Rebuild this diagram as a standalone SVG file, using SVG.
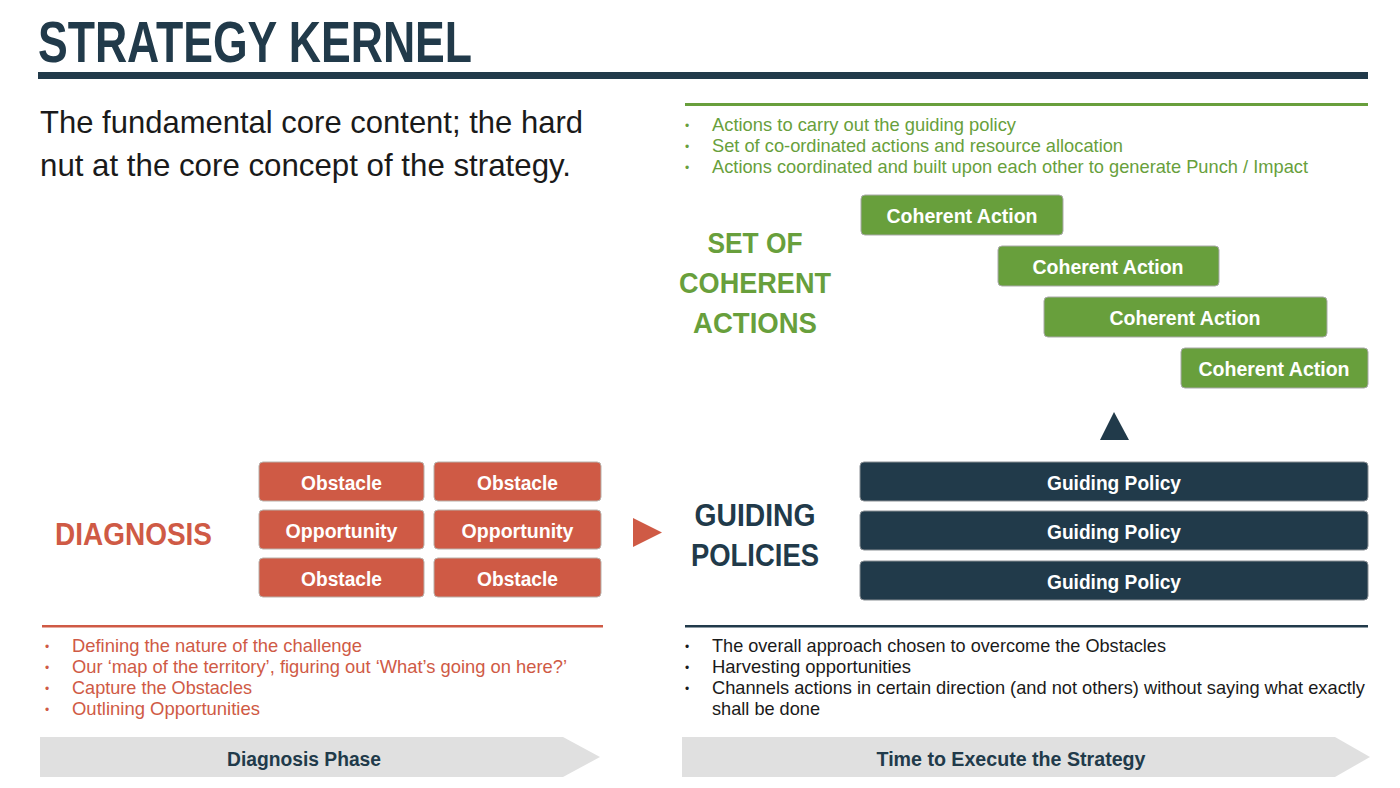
<svg xmlns="http://www.w3.org/2000/svg" width="1400" height="788" viewBox="0 0 1400 788">
<style>
.bold{font-family:"Liberation Sans",Arial,sans-serif;font-weight:bold}
.reg{font-family:"Liberation Sans",Arial,sans-serif}
.lbl{font-size:20px;fill:#ffffff;text-anchor:middle}
.red{fill:#cf5a45}
.green{fill:#689f3c}
.dark{fill:#213a4a}
.redbox{fill:#cf5a45;stroke:#b8b0aa;stroke-width:1}
.greenbox{fill:#689f3c;stroke:#a9a9a9;stroke-width:1}
.darkbox{fill:#213a4a;stroke:#8a8f94;stroke-width:1}
.bul{font-size:18.5px}
.dot{font-size:12px}
</style>
<rect width="1400" height="788" fill="#ffffff"/>

<g id="title">
<text class="bold" x="38" y="62" font-size="58" fill="#213a4a" textLength="434" lengthAdjust="spacingAndGlyphs">STRATEGY KERNEL</text>
<rect x="38" y="72" width="1330" height="7" fill="#213a4a"/>
</g>

<g id="subtitle">
<text class="reg" x="40" y="133" font-size="32" fill="#1a1a1a" textLength="543" lengthAdjust="spacingAndGlyphs">The fundamental core content; the hard</text>
<text class="reg" x="40" y="176" font-size="32" fill="#1a1a1a" textLength="531" lengthAdjust="spacingAndGlyphs">nut at the core concept of the strategy.</text>
</g>

<g id="actions-notes">
<rect x="685" y="103" width="683" height="3" fill="#689f3c"/>
<g class="reg bul green">
<text class="dot" x="685" y="130">•</text><text x="712" y="131" textLength="304" lengthAdjust="spacingAndGlyphs">Actions to carry out the guiding policy</text>
<text class="dot" x="685" y="151">•</text><text x="712" y="152" textLength="411" lengthAdjust="spacingAndGlyphs">Set of co-ordinated actions and resource allocation</text>
<text class="dot" x="685" y="172">•</text><text x="712" y="173" textLength="596" lengthAdjust="spacingAndGlyphs">Actions coordinated and built upon each other to generate Punch / Impact</text>
</g>
</g>

<g id="set-of-coherent-actions" class="bold green" font-size="29" text-anchor="middle">
<text x="755" y="253" textLength="95" lengthAdjust="spacingAndGlyphs">SET OF</text>
<text x="755" y="293" textLength="152" lengthAdjust="spacingAndGlyphs">COHERENT</text>
<text x="755" y="333" textLength="124" lengthAdjust="spacingAndGlyphs">ACTIONS</text>
</g>

<g id="action1"><rect class="greenbox" x="861" y="195" width="202" height="40" rx="4"/><text class="bold lbl" x="962" y="223" textLength="151" lengthAdjust="spacingAndGlyphs">Coherent Action</text></g>
<g id="action2"><rect class="greenbox" x="998" y="246" width="221" height="40" rx="4"/><text class="bold lbl" x="1108" y="274" textLength="151" lengthAdjust="spacingAndGlyphs">Coherent Action</text></g>
<g id="action3"><rect class="greenbox" x="1044" y="297" width="283" height="40" rx="4"/><text class="bold lbl" x="1185" y="325" textLength="151" lengthAdjust="spacingAndGlyphs">Coherent Action</text></g>
<g id="action4"><rect class="greenbox" x="1181" y="348" width="187" height="40" rx="4"/><text class="bold lbl" x="1274" y="376" textLength="151" lengthAdjust="spacingAndGlyphs">Coherent Action</text></g>

<g id="connectors">
<polygon points="1114,412 1129,440 1100,440" fill="#213a4a"/>
<polygon points="633,518 662,532.5 633,547" fill="#cf5a45"/>
</g>

<g id="guiding-policies" class="bold dark" font-size="32" text-anchor="middle">
<text x="755" y="526" textLength="121" lengthAdjust="spacingAndGlyphs">GUIDING</text>
<text x="755" y="566" textLength="128" lengthAdjust="spacingAndGlyphs">POLICIES</text>
</g>

<g id="policy1"><rect class="darkbox" x="860" y="462" width="508" height="39" rx="4"/><text class="bold lbl" x="1114" y="490" textLength="134" lengthAdjust="spacingAndGlyphs">Guiding Policy</text></g>
<g id="policy2"><rect class="darkbox" x="860" y="511" width="508" height="39" rx="4"/><text class="bold lbl" x="1114" y="539" textLength="134" lengthAdjust="spacingAndGlyphs">Guiding Policy</text></g>
<g id="policy3"><rect class="darkbox" x="860" y="561" width="508" height="39" rx="4"/><text class="bold lbl" x="1114" y="589" textLength="134" lengthAdjust="spacingAndGlyphs">Guiding Policy</text></g>

<g id="diagnosis"><text class="bold red" x="55" y="545" font-size="31" textLength="157" lengthAdjust="spacingAndGlyphs">DIAGNOSIS</text></g>

<g id="obstacle1"><rect class="redbox" x="259" y="462" width="165" height="39" rx="4"/><text class="bold lbl" x="341.5" y="490" textLength="81" lengthAdjust="spacingAndGlyphs">Obstacle</text></g>
<g id="obstacle2"><rect class="redbox" x="434" y="462" width="167" height="39" rx="4"/><text class="bold lbl" x="517.5" y="490" textLength="81" lengthAdjust="spacingAndGlyphs">Obstacle</text></g>
<g id="opportunity1"><rect class="redbox" x="259" y="510" width="165" height="39" rx="4"/><text class="bold lbl" x="341.5" y="538" textLength="112" lengthAdjust="spacingAndGlyphs">Opportunity</text></g>
<g id="opportunity2"><rect class="redbox" x="434" y="510" width="167" height="39" rx="4"/><text class="bold lbl" x="517.5" y="538" textLength="112" lengthAdjust="spacingAndGlyphs">Opportunity</text></g>
<g id="obstacle3"><rect class="redbox" x="259" y="558" width="165" height="39" rx="4"/><text class="bold lbl" x="341.5" y="586" textLength="81" lengthAdjust="spacingAndGlyphs">Obstacle</text></g>
<g id="obstacle4"><rect class="redbox" x="434" y="558" width="167" height="39" rx="4"/><text class="bold lbl" x="517.5" y="586" textLength="81" lengthAdjust="spacingAndGlyphs">Obstacle</text></g>

<g id="diagnosis-notes">
<rect x="42" y="625" width="561" height="2.5" fill="#cf5a45"/>
<g class="reg bul red">
<text class="dot" x="45" y="651">•</text><text x="72" y="652" textLength="290" lengthAdjust="spacingAndGlyphs">Defining the nature of the challenge</text>
<text class="dot" x="45" y="672">•</text><text x="72" y="673" textLength="495" lengthAdjust="spacingAndGlyphs">Our ‘map of the territory’, figuring out ‘What’s going on here?’</text>
<text class="dot" x="45" y="693">•</text><text x="72" y="694" textLength="180" lengthAdjust="spacingAndGlyphs">Capture the Obstacles</text>
<text class="dot" x="45" y="714">•</text><text x="72" y="715" textLength="188" lengthAdjust="spacingAndGlyphs">Outlining Opportunities</text>
</g>
</g>

<g id="policy-notes">
<rect x="685" y="625" width="683" height="2.5" fill="#213a4a"/>
<g class="reg bul" fill="#1a1a1a">
<text class="dot" x="685" y="651">•</text><text x="712" y="652" textLength="454" lengthAdjust="spacingAndGlyphs">The overall approach chosen to overcome the Obstacles</text>
<text class="dot" x="685" y="672">•</text><text x="712" y="673" textLength="199" lengthAdjust="spacingAndGlyphs">Harvesting opportunities</text>
<text class="dot" x="685" y="693">•</text><text x="712" y="694" textLength="653" lengthAdjust="spacingAndGlyphs">Channels actions in certain direction (and not others) without saying what exactly</text>
<text x="712" y="715" textLength="108" lengthAdjust="spacingAndGlyphs">shall be done</text>
</g>
</g>

<g id="phase-diagnosis">
<polygon points="40,737 563,737 600,757 563,777 40,777" fill="#e0e0e0"/>
<text class="bold" x="304" y="766" font-size="20" fill="#213a4a" text-anchor="middle" textLength="154" lengthAdjust="spacingAndGlyphs">Diagnosis Phase</text>
</g>
<g id="phase-execute">
<polygon points="682,737 1335,737 1370,757 1335,777 682,777" fill="#e0e0e0"/>
<text class="bold" x="1011" y="766" font-size="20" fill="#213a4a" text-anchor="middle" textLength="269" lengthAdjust="spacingAndGlyphs">Time to Execute the Strategy</text>
</g>
</svg>
